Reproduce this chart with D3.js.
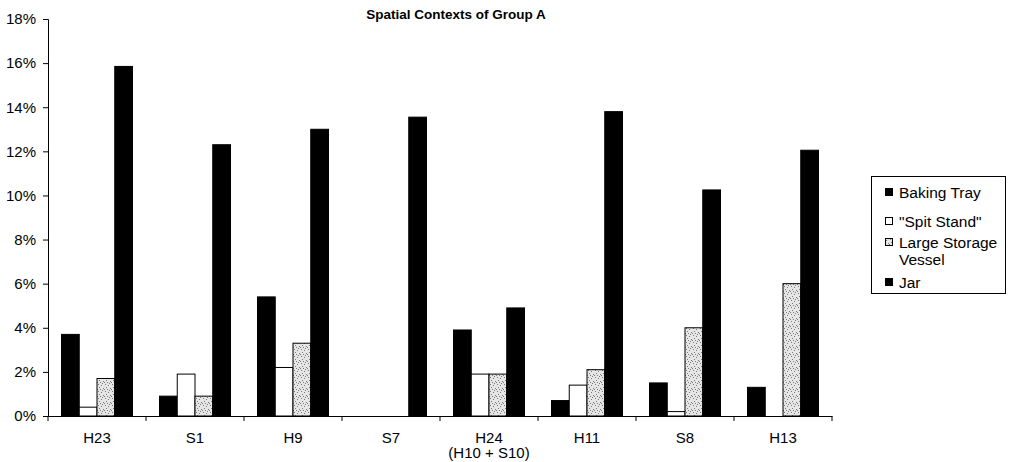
<!DOCTYPE html>
<html>
<head>
<meta charset="utf-8">
<script src="https://cdn.jsdelivr.net/npm/d3@7"></script>
<style>
  body { margin: 0; background: #fff; }
  svg text { font-family: "Liberation Sans", Arial, Helvetica, sans-serif; fill: #000; }
</style>
</head>
<body>
<div id="chart"></div>
<script>
// values (percent)
var categories = ["H23", "S1", "H9", "S7", "H24", "H11", "S8", "H13"];
var catSubLabels = ["", "", "", "", "(H10 + S10)", "", "", ""];
var seriesNames = ["Baking Tray", "\"Spit Stand\"", "Large Storage Vessel", "Jar"];
var bakingTray   = [3.7, 0.9, 5.4, 0, 3.9, 0.7, 1.5, 1.3];
var spitStand    = [0.4, 1.9, 2.2, 0, 1.9, 1.4, 0.2, 0];
var largeStorage = [1.7, 0.9, 3.3, 0, 1.9, 2.1, 4.0, 6.0];
var jar          = [15.85, 12.3, 13.0, 13.55, 4.9, 13.8, 10.25, 12.05];
var yTicks = [0, 2, 4, 6, 8, 10, 12, 14, 16, 18];

var seriesValues = [bakingTray, spitStand, largeStorage, jar];
var seriesFill = ["#000", "#fff", "url(#stipple)", "#000"];

var W = 1017, H = 462;
var margin = { top: 19, left: 48, right: 185, bottom: 46 };
var inner_width = W - margin.left - margin.right;   // 784
var inner_height = H - margin.top - margin.bottom;  // 397

var svg = d3.select("#chart").append("svg")
  .attr("width", W).attr("height", H);

// stipple fill for the storage vessel bars
var pat = svg.append("defs").append("pattern")
  .attr("id", "stipple")
  .attr("patternUnits", "userSpaceOnUse")
  .attr("width", 7).attr("height", 7);
pat.append("rect").attr("width", 7).attr("height", 7).attr("fill", "#e6e6e6");
[[1,1],[4,2],[2,4],[6,5],[5,0],[0,6],[3,6]].forEach(function(p) {
  pat.append("rect").attr("x", p[0]).attr("y", p[1]).attr("width", 1).attr("height", 1).attr("fill", "#7a7a7a");
});

var g = svg.append("g")
  .attr("transform", "translate(" + margin.left + "," + margin.top + ")");

var x0 = d3.scaleBand().domain(categories).range([0, inner_width]).padding(0);
var x1 = d3.scaleBand().domain(d3.range(seriesNames.length))
  .range([0, x0.bandwidth()]).paddingInner(0).paddingOuter(0.76);
var y = d3.scaleLinear().domain([0, 18]).range([inner_height, 0]);

// title
svg.append("text")
  .attr("x", 456).attr("y", 19)
  .attr("text-anchor", "middle")
  .style("font-weight", "bold")
  .style("font-size", "13.5px")
  .text("Spatial Contexts of Group A");

// bars
var groups = g.selectAll(".grp")
  .data(categories)
  .enter().append("g")
  .attr("class", "grp")
  .attr("transform", function(d) { return "translate(" + x0(d) + ",0)"; });

groups.selectAll("rect")
  .data(function(d, i) {
    return seriesValues.map(function(arr, s) { return { s: s, v: arr[i] }; });
  })
  .enter().append("rect")
  .filter(function(d) { return d.v > 0; })
  .attr("x", function(d) { return x1(d.s); })
  .attr("y", function(d) { return y(d.v); })
  .attr("width", x1.bandwidth())
  .attr("height", function(d) { return inner_height - y(d.v); })
  .attr("fill", function(d) { return seriesFill[d.s]; })
  .attr("stroke", "#000")
  .attr("stroke-width", 1);

// y axis
var yAxis = g.append("g")
  .call(d3.axisLeft(y).tickValues(yTicks).tickSize(5).tickPadding(7)
    .tickFormat(function(d) { return d + "%"; }));
yAxis.selectAll("text").style("font-size", "15px");
yAxis.selectAll("path, line").attr("stroke", "#000");

// x axis: labels centred, ticks at the category boundaries
var xAxis = g.append("g")
  .attr("transform", "translate(0," + inner_height + ")")
  .call(d3.axisBottom(x0).tickSize(0).tickPadding(16));
xAxis.select(".domain").attr("stroke", "#000");
xAxis.selectAll(".tick text").style("font-size", "15px");
// second line under H24, as its own text so the two lines don't share a box
xAxis.selectAll(".tick").each(function(d) {
  var sub = catSubLabels[categories.indexOf(d)];
  if (sub) {
    d3.select(this).append("text")
      .attr("y", 42).attr("fill", "#000")
      .attr("text-anchor", "middle")
      .style("font-size", "15px")
      .text(sub);
  }
});
var bounds = categories.map(function(d) { return x0(d); }).concat([inner_width]);
xAxis.selectAll(".bound")
  .data(bounds)
  .enter().append("line")
  .attr("class", "bound")
  .attr("x1", function(d) { return d; }).attr("x2", function(d) { return d; })
  .attr("y1", 0).attr("y2", 5)
  .attr("stroke", "#000");

// legend
var legendRows = [
  { s: 0, y: 192, lines: ["Baking Tray"] },
  { s: 1, y: 221, lines: ["\"Spit Stand\""] },
  { s: 2, y: 242, lines: ["Large Storage", "Vessel"] },
  { s: 3, y: 282, lines: ["Jar"] }
];

var legend = svg.append("g");
legend.append("rect")
  .attr("x", 871.5).attr("y", 176.5)
  .attr("width", 134).attr("height", 117)
  .attr("fill", "#fff").attr("stroke", "#000");

legendRows.forEach(function(r) {
  legend.append("rect")
    .attr("x", 885.5).attr("y", r.y - 3.5)
    .attr("width", 7).attr("height", 7)
    .attr("fill", seriesFill[r.s])
    .attr("stroke", "#000");
  var t = legend.append("text")
    .attr("x", 899).attr("y", r.y + 5.5)
    .style("font-size", "15.5px");
  r.lines.forEach(function(line, k) {
    t.append("tspan").attr("x", 899).attr("dy", k === 0 ? 0 : "1.15em").text(line);
  });
});
</script>
</body>
</html>
